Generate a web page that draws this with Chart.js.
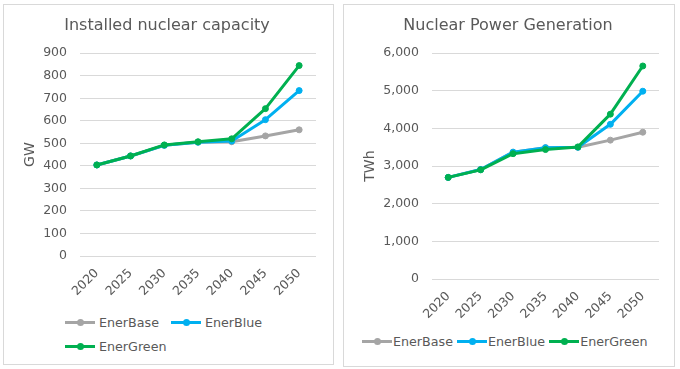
<!DOCTYPE html>
<html lang="en">
<head>
  <meta charset="UTF-8">
  <title>Nuclear capacity and generation</title>
  <script src="https://cdn.jsdelivr.net/npm/chart.js"></script>
  <style>
    body { margin: 0; background: #fff; font-family: "DejaVu Sans", sans-serif; }
    .panel {
      position: absolute;
      box-sizing: border-box;
      border: 1px solid #d9d9d9;
      background: #fff;
    }
    .panel canvas { position: absolute; left: 0; top: 0; }
    .legend { position: absolute; color: #595959; font-size: 12.7px; }
    .legend .row { display: flex; align-items: center; height: 16px; margin-bottom: 8px; }
    .legend .item { display: flex; align-items: center; }
    .legend .mark { position: relative; width: 30px; height: 3px; }
    .legend .mark span {
      position: absolute; left: 12px; top: -2px;
      width: 7px; height: 7px; border-radius: 50%;
    }
  </style>
</head>
<body>

<div class="panel" style="left:3px; top:4px; width:331px; height:361px;">
  <canvas id="graficoCapacidad" width="329" height="300" style="width:329px;height:300px"></canvas>
  <div class="legend" id="leyendaCapacidad" style="left:61px; top:309px;"></div>
</div>

<div class="panel" style="left:343px; top:4px; width:332px; height:363px;">
  <canvas id="graficoGeneracion" width="330" height="322" style="width:330px;height:322px"></canvas>
  <div class="legend" id="leyendaGeneracion" style="left:18px; top:328px;"></div>
</div>

<script>
  const years = ["2020", "2025", "2030", "2035", "2040", "2045", "2050"];
  const seriesNames = ["EnerBase", "EnerBlue", "EnerGreen"];
  const seriesColors = ["#A5A5A5", "#00B0F0", "#00B050"];

  // GW
  const capacityBase = [404, 444, 491, 505, 507, 533, 560];
  const capacityBlue = [404, 444, 491, 505, 510, 605, 734];
  const capacityGreen = [404, 444, 493, 507, 520, 654, 845];
  const capacityMax = 900;
  const capacityStep = 100;

  // TWh
  const generationBase = [2700, 2910, 3370, 3490, 3500, 3690, 3900];
  const generationBlue = [2700, 2910, 3370, 3490, 3500, 4110, 4990];
  const generationGreen = [2700, 2900, 3330, 3440, 3510, 4380, 5660];
  const generationMax = 6000;
  const generationStep = 1000;

  const textColor = "#595959";
  const gridColor = "#D9D9D9";
  const fontFamily = "'DejaVu Sans', sans-serif";

  // padIzq/padDer tambien centran el titulo como en la imagen
  function crearGrafico(id, titulo, tituloEje, series, max, step, padIzq, anchoEje, altoEje, padDer) {
    const datasets = series.map((valores, i) => ({
      label: seriesNames[i],
      data: valores,
      borderColor: seriesColors[i],
      backgroundColor: seriesColors[i],
      pointBackgroundColor: seriesColors[i],
      pointBorderColor: seriesColors[i],
      borderWidth: 3,
      pointRadius: 3,
      pointBorderWidth: 1,
      tension: 0,
      borderJoinStyle: "round",
      order: 3 - i
    }));

    return new Chart(document.getElementById(id), {
      type: "line",
      data: { labels: years, datasets: datasets },
      options: {
        responsive: false,
        animation: false,
        devicePixelRatio: 1,
        layout: { padding: { left: padIzq, right: padDer, top: 0, bottom: 0 } },
        plugins: {
          legend: { display: false },
          tooltip: { enabled: false },
          title: {
            display: true,
            text: titulo,
            color: textColor,
            font: { family: fontFamily, size: 16, weight: "normal" },
            padding: { top: 11, bottom: 18 }
          }
        },
        scales: {
          x: {
            offset: true,
            grid: { display: false },
            border: { display: false },
            ticks: {
              color: textColor,
              font: { family: fontFamily, size: 12.5 },
              minRotation: 45,
              maxRotation: 45,
              padding: 2
            },
            afterFit: (scale) => { scale.height = altoEje; }
          },
          y: {
            min: 0,
            max: max,
            grid: { color: gridColor, drawTicks: false },
            border: { display: false },
            ticks: {
              stepSize: step,
              color: textColor,
              padding: 13,
              font: { family: fontFamily, size: 12.5 },
              callback: (v) => Number(v).toLocaleString("en-US")
            },
            title: {
              display: true,
              text: tituloEje,
              color: textColor,
              font: { family: fontFamily, size: 14 },
              padding: { top: 26 - padIzq - 8.4, bottom: 0 }
            },
            afterFit: (scale) => { scale.width = anchoEje; }
          }
        }
      }
    });
  }

  function crearLeyenda(id, filas, gapTexto, gapItem) {
    const cont = document.getElementById(id);
    filas.forEach(fila => {
      const row = document.createElement("div");
      row.className = "row";
      fila.forEach((idx, k) => {
        const item = document.createElement("div");
        item.className = "item";
        if (k > 0) item.style.marginLeft = gapItem + "px";
        const mark = document.createElement("div");
        mark.className = "mark";
        mark.style.background = seriesColors[idx];
        const dot = document.createElement("span");
        dot.style.background = seriesColors[idx];
        mark.appendChild(dot);
        const txt = document.createElement("span");
        txt.textContent = seriesNames[idx];
        txt.style.marginLeft = gapTexto + "px";
        item.appendChild(mark);
        item.appendChild(txt);
        row.appendChild(item);
      });
      cont.appendChild(row);
    });
  }

  crearGrafico("graficoCapacidad", "Installed nuclear capacity", "GW",
    [capacityBase, capacityBlue, capacityGreen], capacityMax, capacityStep, 14, 62, 49, 17);
  crearGrafico("graficoGeneracion", "Nuclear Power Generation", "TWh",
    [generationBase, generationBlue, generationGreen], generationMax, generationStep, 13, 75, 48, 15);

  crearLeyenda("leyendaCapacidad", [[0, 1], [2]], 4, 12);
  crearLeyenda("leyendaGeneracion", [[0, 1, 2]], 1, 4);
</script>

</body>
</html>
